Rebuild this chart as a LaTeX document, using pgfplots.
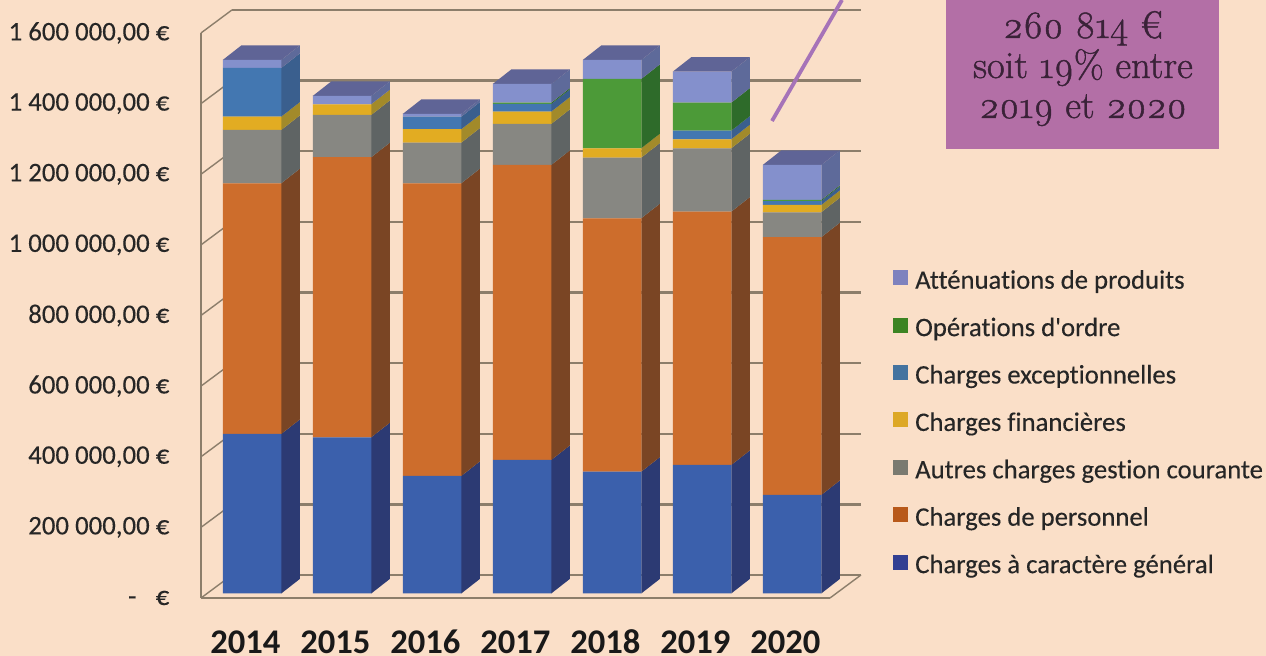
\documentclass[border=0pt]{standalone}
\usepackage{pgfplots}
\usepackage{pgfplotstable}
\usepackage{fontspec}
\pgfplotsset{compat=1.18}
\setmainfont[Ligatures=NoCommon]{Carlito}
\newfontfamily\sem[FakeBold=0.25,Ligatures=NoCommon]{Carlito}
\newfontfamily\oldst[Numbers=OldStyle,FakeBold=1.1]{Latin Modern Roman}
\definecolor{bg}{HTML}{FADFC8}
\definecolor{wall}{HTML}{8C7E6B}
\definecolor{fA}{HTML}{3B60AC}\definecolor{sA}{HTML}{2C3A73}
\definecolor{fB}{HTML}{CD6D2C}\definecolor{sB}{HTML}{7A4524}
\definecolor{fC}{HTML}{878782}\definecolor{sC}{HTML}{5F6464}
\definecolor{fD}{HTML}{E2AC22}\definecolor{sD}{HTML}{A28A2A}
\definecolor{fE}{HTML}{4377B1}\definecolor{sE}{HTML}{3A5F8E}
\definecolor{fF}{HTML}{4C9A38}\definecolor{sF}{HTML}{2E6B2A}
\definecolor{fG}{HTML}{8490CC}\definecolor{sG}{HTML}{5E6A9A}
\definecolor{tp}{HTML}{5F6496}
\definecolor{lA}{HTML}{323F92}\definecolor{lB}{HTML}{B8591A}
\definecolor{lC}{HTML}{7A7A70}\definecolor{lD}{HTML}{DDA826}
\definecolor{lE}{HTML}{44739F}\definecolor{lF}{HTML}{3C8423}
\definecolor{lG}{HTML}{7E82BE}
\definecolor{purp}{HTML}{B36FA6}
\definecolor{purl}{HTML}{A673B8}
\definecolor{ptxt}{HTML}{3A2238}
\pgfplotstableread{
year cg pers autres fin exc ordre att
2014 451200 709200 150800 37600 137800 0 22600
2015 441900 792100 119600 30300 0 0 23500
2016 332400 828000 114900 37900 35600 0 7700
2017 377700 834500 116000 34800 21800 3600 52900
2018 344600 716800 171400 26600 0 196100 53700
2019 363500 716600 179300 25500 24300 79200 87700
2020 278600 729100 70700 20600 11200 3000 99000
}\data
\newcommand\sd[4]{%
 \pgfmathsetmacro\xa{#1+0.325}\pgfmathsetmacro\xb{#1+0.531}%
 \edef\tmp{\noexpand\addplot[draw=none,fill=#4] coordinates {(\xa,#2)(\xb,\the\numexpr#2+41000\relax)(\xb,\the\numexpr#3+41000\relax)(\xa,#3)} --cycle;}\tmp}
\newcommand\tpf[2]{%
 \pgfmathsetmacro\xa{#1-0.325}\pgfmathsetmacro\xb{#1+0.325}\pgfmathsetmacro\xc{#1+0.531}\pgfmathsetmacro\xd{#1-0.119}%
 \edef\tmp{\noexpand\addplot[draw=none,fill=tp] coordinates {(\xa,#2)(\xb,#2)(\xc,\the\numexpr#2+41000\relax)(\xd,\the\numexpr#2+41000\relax)} --cycle;}\tmp}
\newcommand\wl[4]{\addplot[wall,line width=1.2pt] coordinates {(#1,#2)(#3,#4)};}
\newcommand\wt[4]{\addplot[wall,line width=0.7pt] coordinates {(#1,#2)(#3,#4)};}
\pgfplotsset{base/.style={
  scale only axis,width=314.5pt,height=282.5pt,
  xmin=2013.4333,xmax=2020.4222,ymin=-12730,ymax=1585500,clip=false}}
\newcommand\leg[2]{\addlegendimage{legend image code/.code={\fill[#1] (0pt,-1pt) rectangle (7pt,6pt);}}\addlegendentry{\hspace{3.5pt}#2}}
\begin{document}
\begin{tikzpicture}
\fill[bg,use as bounding box] (-100.5pt,-29pt) rectangle (532.5pt,299pt);
\begin{axis}[base,
  axis line style={draw=none},
  tick style={draw=none},
  scaled y ticks=false,
  xtick={2014,2015,2016,2017,2018,2019,2020},
  xticklabels={2014,2015,2016,2017,2018,2019,2020},
  x tick label style={font=\fontsize{17.3}{18}\selectfont\bfseries,text=black!90,xshift=-3.3pt,yshift=-12pt,text height=12pt,text depth=0pt},
  ytick={-12730,187050,386800,586600,786400,986100,1185900,1385700,1585500},
  yticklabels={{-\hspace{0.72em}€},{200 000,00 €},{400 000,00 €},{600 000,00 €},{800 000,00 €},{1 000 000,00 €},{1 200 000,00 €},{1 400 000,00 €},{1 600 000,00 €}},
  y tick label style={font=\sem\fontsize{13.4}{14}\selectfont,text=black!85,anchor=east},
  yticklabel style={xshift=-12.3pt},
]
% back wall
\wl{2013.7778}{52330}{2020.7667}{52330}
\wl{2013.7778}{252130}{2020.7667}{252130}
\wl{2013.7778}{451930}{2020.7667}{451930}
\wl{2013.7778}{651730}{2020.7667}{651730}
\wl{2013.7778}{851530}{2020.7667}{851530}
\wl{2013.7778}{1051330}{2020.7667}{1051330}
\wl{2013.7778}{1251130}{2020.7667}{1251130}
\wl{2013.7778}{1450930}{2020.7667}{1450930}
\wl{2013.7778}{1650730}{2020.7667}{1650730}
% left wall
\wt{2013.4333}{-12730}{2013.4333}{1585500}
\wt{2013.4333}{-12730}{2013.7778}{52330}
\wt{2013.4333}{187050}{2013.7778}{252130}
\wt{2013.4333}{386800}{2013.7778}{451930}
\wt{2013.4333}{586600}{2013.7778}{651730}
\wt{2013.4333}{786400}{2013.7778}{851530}
\wt{2013.4333}{986100}{2013.7778}{1051330}
\wt{2013.4333}{1185900}{2013.7778}{1251130}
\wt{2013.4333}{1385700}{2013.7778}{1450930}
\wt{2013.4333}{1585500}{2013.7778}{1650730}
% floor
\wt{2013.4333}{-12730}{2020.4222}{-12730}
\wt{2020.4222}{-12730}{2020.7667}{52330}
% 2014
\sd{2014}{0}{451200}{sA}\sd{2014}{451200}{1160400}{sB}\sd{2014}{1160400}{1311200}{sC}\sd{2014}{1311200}{1348800}{sD}\sd{2014}{1348800}{1486600}{sE}\sd{2014}{1486600}{1509200}{sG}\tpf{2014}{1509200}
% 2015
\sd{2015}{0}{441900}{sA}\sd{2015}{441900}{1234000}{sB}\sd{2015}{1234000}{1353600}{sC}\sd{2015}{1353600}{1383900}{sD}\sd{2015}{1383900}{1407400}{sG}\tpf{2015}{1407400}
% 2016
\sd{2016}{0}{332400}{sA}\sd{2016}{332400}{1160400}{sB}\sd{2016}{1160400}{1275300}{sC}\sd{2016}{1275300}{1313200}{sD}\sd{2016}{1313200}{1348800}{sE}\sd{2016}{1348800}{1356500}{sG}\tpf{2016}{1356500}
% 2017
\sd{2017}{0}{377700}{sA}\sd{2017}{377700}{1212200}{sB}\sd{2017}{1212200}{1328200}{sC}\sd{2017}{1328200}{1363000}{sD}\sd{2017}{1363000}{1384800}{sE}\sd{2017}{1384800}{1388400}{sF}\sd{2017}{1388400}{1441300}{sG}\tpf{2017}{1441300}
% 2018
\sd{2018}{0}{344600}{sA}\sd{2018}{344600}{1061400}{sB}\sd{2018}{1061400}{1232800}{sC}\sd{2018}{1232800}{1259400}{sD}\sd{2018}{1259400}{1455500}{sF}\sd{2018}{1455500}{1509200}{sG}\tpf{2018}{1509200}
% 2019
\sd{2019}{0}{363500}{sA}\sd{2019}{363500}{1080100}{sB}\sd{2019}{1080100}{1259400}{sC}\sd{2019}{1259400}{1284900}{sD}\sd{2019}{1284900}{1309200}{sE}\sd{2019}{1309200}{1388400}{sF}\sd{2019}{1388400}{1476100}{sG}\tpf{2019}{1476100}
% 2020
\sd{2020}{0}{278600}{sA}\sd{2020}{278600}{1007700}{sB}\sd{2020}{1007700}{1078400}{sC}\sd{2020}{1078400}{1099000}{sD}\sd{2020}{1099000}{1110200}{sE}\sd{2020}{1110200}{1113200}{sF}\sd{2020}{1113200}{1212200}{sG}\tpf{2020}{1212200}
\end{axis}
\begin{axis}[base,hide axis,ybar stacked,bar width=29.25pt,
  legend style={at={(1.1002,0.5807)},anchor=north west,draw=none,fill=none,inner sep=0pt,
    font=\sem\fontsize{13.35}{14}\selectfont,text=black!85,row sep=11.5pt,
    nodes={text height=9pt,text depth=3pt,inner sep=0pt}},
  legend cell align=left]
\addplot[draw=none,fill=fA,forget plot] table[x=year,y=cg]{\data};
\addplot[draw=none,fill=fB,forget plot] table[x=year,y=pers]{\data};
\addplot[draw=none,fill=fC,forget plot] table[x=year,y=autres]{\data};
\addplot[draw=none,fill=fD,forget plot] table[x=year,y=fin]{\data};
\addplot[draw=none,fill=fE,forget plot] table[x=year,y=exc]{\data};
\addplot[draw=none,fill=fF,forget plot] table[x=year,y=ordre]{\data};
\addplot[draw=none,fill=fG,forget plot] table[x=year,y=att]{\data};
\leg{lG}{Atténuations de produits}
\leg{lF}{Opérations d'ordre}
\leg{lE}{Charges exceptionnelles}
\leg{lD}{Charges financières}
\leg{lC}{Autres charges gestion courante}
\leg{lB}{Charges de personnel}
\leg{lA}{Charges à caractère général}
\end{axis}
% annotation: px (x,y) -> ((x-201)/2 pt,(598-y)/2 pt)
\draw[purl,line width=1.9pt] (285.5pt,238.5pt) -- (320.5pt,299pt);
\fill[purp] (372.5pt,224.5pt) rectangle (509pt,299pt);
\node[font=\oldst\fontsize{19.3}{20}\selectfont,text=ptxt,anchor=base] at (441pt,280pt) {260 814 €};
\node[font=\oldst\fontsize{19.3}{20}\selectfont,text=ptxt,anchor=base] at (441pt,260pt) {soit 19\% entre};
\node[font=\oldst\fontsize{19.3}{20}\selectfont,text=ptxt,anchor=base] at (441pt,240pt) {2019 et 2020};
\end{tikzpicture}
\end{document}
